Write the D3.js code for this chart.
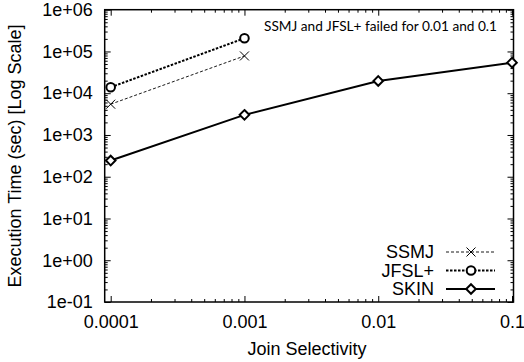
<!DOCTYPE html>
<html>
<head>
<meta charset="utf-8">
<script src="https://cdn.jsdelivr.net/npm/d3@7"></script>
<style>
  body { margin: 0; background: #fff; }
  svg { display: block; font-family: "Liberation Sans", Arial, sans-serif; }
</style>
</head>
<body>
<div class="chart"></div>
<script>
// 数据
const selectivity = [0.0001, 0.001, 0.01, 0.1]
const ssmjTimes = [5460, 78000]
const jfslTimes = [13900, 207000]
const skinTimes = [244, 3030, 19700, 54000]
const xTickLabels = ['0.0001', '0.001', '0.01', '0.1']
const yTickValues = [1e-1, 1e0, 1e1, 1e2, 1e3, 1e4, 1e5, 1e6]
const yTickLabels = ['1e-01', '1e+00', '1e+01', '1e+02', '1e+03', '1e+04', '1e+05', '1e+06']
const seriesNames = ['SSMJ', 'JFSL+', 'SKIN']
const note = 'SSMJ and JFSL+ failed for 0.01 and 0.1'

const width = 524
const height = 362
const plotLeft = 104.7, plotRight = 513.5, plotTop = 9.7, plotBottom = 302

const series = [
  { name: seriesNames[0], xs: selectivity.slice(0, 2), ys: ssmjTimes, mark: 'x', width: 0.9, dash: '3,2' },
  { name: seriesNames[1], xs: selectivity.slice(0, 2), ys: jfslTimes, mark: 'circle', width: 2, dash: '2.5,1.5' },
  { name: seriesNames[2], xs: selectivity, ys: skinTimes, mark: 'diamond', width: 2, dash: null }
]

const x = d3.scaleLog().domain([9.02e-5, 0.1026]).range([plotLeft, plotRight])
const y = d3.scaleLog().domain([0.1, 1e6]).range([plotBottom, plotTop])

const svg = d3.select('.chart').append('svg')
  .attr('width', width).attr('height', height)

// 坐标轴刻度（主刻度 + 次刻度，四边都画）
const minorX = x.ticks().filter(d => !selectivity.includes(d) && d > 9.5e-5)
const minorY = y.ticks().filter(d => Math.abs(Math.log10(d) - Math.round(Math.log10(d))) > 1e-6)

function addTicks(axisFn, scale, values, size, transform, labels) {
  const g = svg.append('g').attr('transform', transform)
    .call(axisFn(scale).tickValues(values).tickSize(size).tickSizeOuter(0)
      .tickPadding(10)
      .tickFormat(labels ? (d, i) => labels[i] : ''))
  g.select('.domain').remove()
  g.selectAll('line').attr('stroke', '#000').attr('stroke-width', 1)
  g.selectAll('text').attr('font-size', 18).attr('fill', '#000')
    .attr('font-family', '"Liberation Sans", Arial, sans-serif')
  return g
}

addTicks(d3.axisBottom, x, selectivity, -6, `translate(0,${plotBottom})`, xTickLabels)
  .selectAll('text').attr('dy', '0.71em').attr('y', 13)
addTicks(d3.axisTop, x, selectivity, -6, `translate(0,${plotTop})`, null)
addTicks(d3.axisBottom, x, minorX, -3, `translate(0,${plotBottom})`, null)
addTicks(d3.axisTop, x, minorX, -3, `translate(0,${plotTop})`, null)

addTicks(d3.axisLeft, y, yTickValues, -6, `translate(${plotLeft},0)`, yTickLabels)
  .selectAll('text').attr('x', -12)
addTicks(d3.axisRight, y, yTickValues, -6, `translate(${plotRight},0)`, null)
addTicks(d3.axisLeft, y, minorY, -3, `translate(${plotLeft},0)`, null)
addTicks(d3.axisRight, y, minorY, -3, `translate(${plotRight},0)`, null)

// 边框
svg.append('rect')
  .attr('x', plotLeft).attr('y', plotTop)
  .attr('width', plotRight - plotLeft).attr('height', plotBottom - plotTop)
  .attr('fill', 'none').attr('stroke', '#000').attr('stroke-width', 1.5)

// 坐标轴标题
svg.append('text')
  .attr('x', (plotLeft + plotRight) / 2 - 2).attr('y', 355)
  .attr('text-anchor', 'middle').attr('font-size', 18)
  .text('Join Selectivity')

svg.append('text')
  .attr('transform', `translate(21,156) rotate(-90)`)
  .attr('text-anchor', 'middle').attr('font-size', 18)
  .text('Execution Time (sec) [Log Scale]')

// 标记的绘制
function drawMark(g, type, cx, cy) {
  if (type === 'x') {
    const s = 4.5
    g.append('path')
      .attr('d', `M${cx - s},${cy - s}L${cx + s},${cy + s}M${cx - s},${cy + s}L${cx + s},${cy - s}`)
      .attr('stroke', '#000').attr('stroke-width', 1).attr('fill', 'none')
  } else if (type === 'circle') {
    g.append('circle').attr('cx', cx).attr('cy', cy).attr('r', 4.3)
      .attr('fill', '#fff').attr('stroke', '#000').attr('stroke-width', 2)
  } else {
    const s = 4.8
    g.append('path')
      .attr('d', `M${cx},${cy - s}L${cx + s},${cy}L${cx},${cy + s}L${cx - s},${cy}Z`)
      .attr('fill', '#fff').attr('stroke', '#000').attr('stroke-width', 2)
  }
}

const line = d3.line().x(d => x(d[0])).y(d => y(d[1]))

series.forEach(s => {
  const pts = s.xs.map((v, i) => [v, s.ys[i]])
  const g = svg.append('g')
  g.append('path').datum(pts)
    .attr('d', line)
    .attr('fill', 'none').attr('stroke', '#000')
    .attr('stroke-width', s.width)
    .attr('stroke-dasharray', s.dash)
  pts.forEach(p => drawMark(g, s.mark, x(p[0]), y(p[1])))
})

// 图例
const legendY = [252, 270.5, 289]
series.forEach((s, i) => {
  const g = svg.append('g')
  g.append('text')
    .attr('x', 434).attr('y', legendY[i]).attr('dy', '0.35em')
    .attr('text-anchor', 'end').attr('font-size', 18)
    .text(s.name)
  g.append('line')
    .attr('x1', 446).attr('x2', 495).attr('y1', legendY[i]).attr('y2', legendY[i])
    .attr('stroke', '#000').attr('stroke-width', s.width)
    .attr('stroke-dasharray', s.dash)
  drawMark(g, s.mark, 471, legendY[i])
})

// 注释
svg.append('text')
  .attr('x', 264).attr('y', 31)
  .attr('font-family', 'Lato, "Open Sans", sans-serif')
  .attr('font-size', 14)
  .attr('textLength', 233).attr('lengthAdjust', 'spacingAndGlyphs')
  .text(note)
</script>
</body>
</html>
